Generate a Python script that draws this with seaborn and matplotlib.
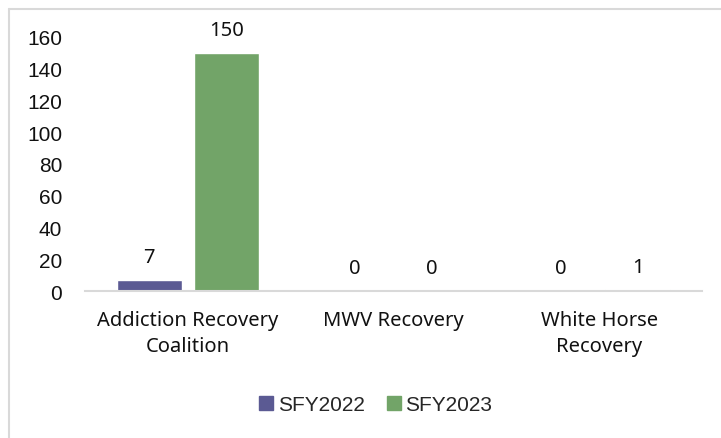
import matplotlib
matplotlib.use("Agg")
import matplotlib.pyplot as plt
import matplotlib.patheffects as pe
from matplotlib.lines import Line2D
import seaborn as sns
import pandas as pd

categories = ["Addiction Recovery\nCoalition", "MWV Recovery", "White Horse\nRecovery"]
series_names = ["SFY2022", "SFY2023"]
sfy2022 = [7, 0, 0]
sfy2023 = [150, 0, 1]
y_ticks = [0, 20, 40, 60, 80, 100, 120, 140, 160]

colors = ["#5B5A93", "#72A468"]

df = pd.DataFrame({
    "category": categories * 2,
    "series": [series_names[0]] * 3 + [series_names[1]] * 3,
    "value": sfy2022 + sfy2023,
})

sns.set_theme(style="white")
plt.rcParams["font.family"] = ["Liberation Sans", "DejaVu Sans"]

fig = plt.figure(figsize=(7.21, 4.39), dpi=100)
ax = fig.add_axes([85 / 721, 147 / 439, 617 / 721, 254 / 439])

sns.barplot(data=df, x="category", y="value", hue="series", order=categories,
            hue_order=series_names, palette=colors, width=0.75, gap=0.16,
            saturation=1, ax=ax, legend=False)

for p in ax.patches:
    p.set_path_effects([pe.SimplePatchShadow(offset=(1, -1), shadow_rgbFace="#999999", alpha=0.35), pe.Normal()])

for cont in ax.containers:
    ax.bar_label(cont, padding=9, fontsize=14.5, color="#111111", family=["Noto Sans", "DejaVu Sans"])

ax.set_ylim(0, 160)
ax.set_yticks(y_ticks)
ax.set_xlim(-0.5, 2.5)
ax.set_xlabel("")
ax.set_ylabel("")
for s in ["top", "right", "left"]:
    ax.spines[s].set_visible(False)
ax.spines["bottom"].set_color("#d9d9d9")
ax.spines["bottom"].set_linewidth(1.5)
ax.tick_params(axis="y", length=0, labelsize=15, pad=16.5, labelcolor="#111111")
ax.tick_params(axis="x", length=0, labelsize=14.5, pad=14, labelcolor="#111111")
for lbl in ax.get_xticklabels():
    lbl.set_family(["Noto Sans", "DejaVu Sans"])
    lbl.set_linespacing(1.4)

handles = [Line2D([0], [0], marker="s", linestyle="none", markersize=10,
                  markerfacecolor=c, markeredgecolor=c) for c in colors]
fig.legend(handles, series_names, loc="center", bbox_to_anchor=(374 / 721, 1 - 406 / 439),
           ncol=2, frameon=False, fontsize=15, handletextpad=0.05, columnspacing=0.9,
           handlelength=1.0)

# chart border (left and top visible)
fig.add_artist(Line2D([8.5 / 721, 8.5 / 721], [0, 1 - 10 / 439], transform=fig.transFigure, color="#d9d9d9", lw=1.5))
fig.add_artist(Line2D([8.5 / 721, 1], [1 - 10 / 439, 1 - 10 / 439], transform=fig.transFigure, color="#d9d9d9", lw=1.5))

fig.savefig("out.png", dpi=100)
